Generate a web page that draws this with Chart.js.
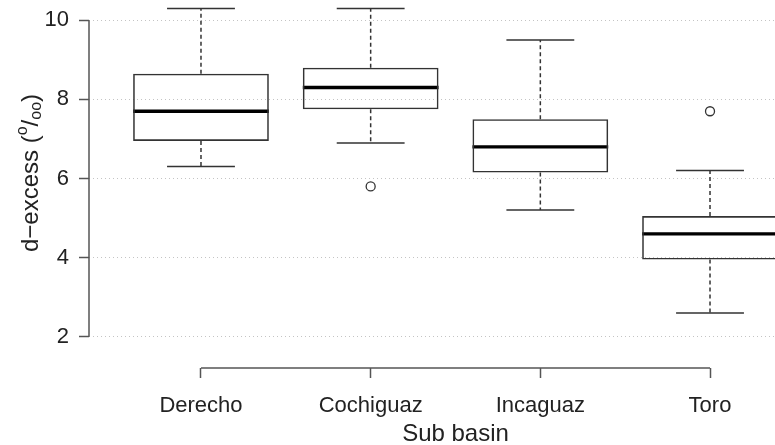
<!DOCTYPE html>
<html>
<head>
<meta charset="utf-8">
<script src="https://cdn.jsdelivr.net/npm/chart.js@4.4.1/dist/chart.umd.min.js"></script>
<style>
  html, body { margin: 0; padding: 0; background: #fff; overflow: hidden; }
</style>
</head>
<body>
<canvas id="c" width="775" height="445"></canvas>
<script>
// boxplot stats
const categories = ['Derecho', 'Cochiguaz', 'Incaguaz', 'Toro'];
const whiskerLow = [6.3, 6.9, 5.2, 2.6];
const q1 = [6.95, 7.75, 6.15, 3.95];
const median = [7.7, 8.3, 6.8, 4.6];
const q3 = [8.65, 8.8, 7.5, 5.05];
const whiskerHigh = [10.3, 10.3, 9.5, 6.2];
const outliers = [[], [5.8], [], [7.7]];
const yTicks = [2, 4, 6, 8, 10];
const xTitle = 'Sub basin';

const FONT = '"Liberation Sans", Arial, Helvetica, sans-serif';
const BOX_HALF = 0.4, CAP_HALF = 0.2;
const pos = categories.map((c, i) => i + 1);

// list of [from, to] segments -> points with a null gap after each
function segments(make) {
  const out = [];
  pos.forEach((x, i) => {
    make(x, i).forEach(s => {
      out.push(s[0], s[1], { x: s[1].x, y: null });
    });
  });
  return out;
}

const lineBase = { type: 'line', pointRadius: 0, fill: false, spanGaps: false, tension: 0 };

const boxData = pos.map((x, i) => ({ x: x, y: [q1[i], q3[i]] }));
const medianData = segments((x, i) => [[{ x: x - BOX_HALF, y: median[i] }, { x: x + BOX_HALF, y: median[i] }]]);
const whiskerData = segments((x, i) => [
  [{ x: x, y: q3[i] }, { x: x, y: whiskerHigh[i] }],
  [{ x: x, y: q1[i] }, { x: x, y: whiskerLow[i] }]
]);
const capData = segments((x, i) => [
  [{ x: x - CAP_HALF, y: whiskerHigh[i] }, { x: x + CAP_HALF, y: whiskerHigh[i] }],
  [{ x: x - CAP_HALF, y: whiskerLow[i] }, { x: x + CAP_HALF, y: whiskerLow[i] }]
]);
const outlierData = [];
outliers.forEach((vals, i) => vals.forEach(v => outlierData.push({ x: pos[i], y: v })));

// R-style axes (lines only span the ticks) and the axis titles
const rAxes = {
  id: 'rAxes',
  afterDraw(chart) {
    const { ctx, chartArea, scales: { x, y } } = chart;
    ctx.save();
    ctx.strokeStyle = '#555';
    ctx.lineWidth = 1.5;
    ctx.beginPath();
    ctx.moveTo(chartArea.left, y.getPixelForValue(yTicks[0]));
    ctx.lineTo(chartArea.left, y.getPixelForValue(yTicks[yTicks.length - 1]));
    ctx.moveTo(x.getPixelForValue(pos[0]), chartArea.bottom);
    ctx.lineTo(x.getPixelForValue(pos[pos.length - 1]), chartArea.bottom);
    ctx.stroke();

    ctx.fillStyle = '#222';
    ctx.font = '24px ' + FONT;
    ctx.textAlign = 'center';
    ctx.textBaseline = 'alphabetic';
    ctx.fillText(xTitle, x.getPixelForValue((pos[0] + pos[pos.length - 1]) / 2), 441);

    // d-excess (o/oo) with super/subscripts
    ctx.translate(37.5, 252);
    ctx.rotate(-Math.PI / 2);
    ctx.textAlign = 'left';
    let cx = 0;
    const part = (t, size, dy) => {
      ctx.font = size + 'px ' + FONT;
      ctx.fillText(t, cx, dy);
      cx += ctx.measureText(t).width;
    };
    part('d\u2212excess (', 24, 0);
    part('o', 16, -11);
    part('/', 24, 0);
    part('oo', 16, 3);
    part(')', 24, 0);
    ctx.restore();
  }
};

new Chart(document.getElementById('c'), {
  type: 'bar',
  data: {
    datasets: [
      {
        type: 'bar',
        data: boxData,
        backgroundColor: 'rgba(255,255,255,0)',
        borderColor: '#333',
        borderWidth: 1.6,
        borderSkipped: false,
        categoryPercentage: 1,
        barPercentage: 0.8
      },
      Object.assign({}, lineBase, { data: whiskerData, borderColor: '#333', borderWidth: 1.5, borderDash: [4, 3] }),
      Object.assign({}, lineBase, { data: capData, borderColor: '#333', borderWidth: 1.5 }),
      Object.assign({}, lineBase, { data: medianData, borderColor: '#000', borderWidth: 3.4 }),
      Object.assign({}, lineBase, {
        data: outlierData, showLine: false, pointRadius: 4.5, pointBorderWidth: 1.3,
        pointBorderColor: '#333', pointBackgroundColor: 'rgba(255,255,255,0)'
      })
    ]
  },
  options: {
    responsive: false,
    animation: false,
    events: [],
    layout: { padding: 0, autoPadding: false },
    plugins: { legend: { display: false }, tooltip: { enabled: false } },
    scales: {
      x: {
        type: 'linear',
        bounds: 'data',
        offset: false,
        min: 0.34,
        max: 4.383,
        afterBuildTicks: s => { s.ticks = pos.map(v => ({ value: v })); },
        afterFit: s => { s.height = 77; s.paddingLeft = 0; s.paddingRight = 0; },
        ticks: {
          callback: v => categories[v - 1],
          font: { family: FONT, size: 22 },
          color: '#222',
          padding: 15,
          autoSkip: false,
          maxRotation: 0
        },
        grid: { offset: false, drawOnChartArea: false, drawTicks: true, tickLength: 10, tickColor: '#555', tickWidth: 1.5 },
        border: { display: false }
      },
      y: {
        type: 'linear',
        bounds: 'data',
        min: 1.208,
        max: 10.513,
        afterBuildTicks: s => { s.ticks = yTicks.map(v => ({ value: v })); },
        afterFit: s => { s.width = 89; s.paddingTop = 0; s.paddingBottom = 0; },
        ticks: {
          font: { family: FONT, size: 22 },
          color: '#222',
          padding: 10
        },
        grid: { color: '#c4c4c4', lineWidth: 1, drawTicks: true, tickLength: 10, tickColor: '#555', tickWidth: 1.5, tickBorderDash: [] },
        border: { display: false, dash: [1, 3] }
      }
    }
  },
  plugins: [rAxes]
});
</script>
</body>
</html>
